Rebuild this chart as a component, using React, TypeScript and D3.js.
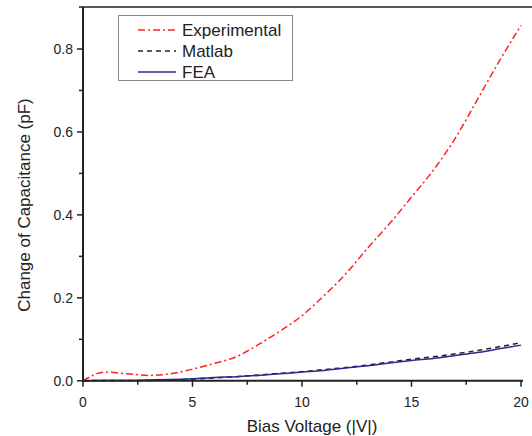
import React from "react";
import * as d3 from "d3";

const voltages = [0, 1, 2, 3, 4, 5, 6, 7, 8, 9, 10, 11, 12, 13, 14, 15, 16, 17, 18, 19, 20];
const experimental = [0, 0.021, 0.017, 0.013, 0.017, 0.028, 0.042, 0.058, 0.087, 0.12, 0.157, 0.205, 0.258, 0.32, 0.379, 0.443, 0.508, 0.585, 0.677, 0.77, 0.857];
const matlab = [0, 0.001, 0.001, 0.001, 0.002, 0.004, 0.007, 0.01, 0.014, 0.018, 0.022, 0.027, 0.032, 0.038, 0.045, 0.052, 0.058, 0.065, 0.073, 0.082, 0.092];
const fea = [0, 0.001, 0.001, 0.002, 0.003, 0.005, 0.008, 0.01, 0.013, 0.017, 0.021, 0.025, 0.031, 0.036, 0.043, 0.049, 0.054, 0.061, 0.068, 0.077, 0.086];

const xMajorTicks = [0, 5, 10, 15, 20];
const xMinorTicks = [2.5, 7.5, 12.5, 17.5];
const yMajorTicks = [0, 0.2, 0.4, 0.6, 0.8];
const yMinorTicks = [0.1, 0.3, 0.5, 0.7];
const seriesNames = ["Experimental", "Matlab", "FEA"];

export default function App() {
  const x = d3.scaleLinear().domain([0, 20]).range([83, 521]);
  const y = d3.scaleLinear().domain([0, 0.9]).range([380.8, 7.5]);
  const font = "'Liberation Sans', Arial, sans-serif";

  const mk = (vals: number[]) =>
    d3
      .line<number>()
      .x((_, i) => x(voltages[i]))
      .y((d) => y(d))
      .curve(d3.curveMonotoneX)(vals) || "";

  const series = [
    { name: seriesNames[0], vals: experimental, color: "#ff2020", dash: "7,3,2,3", w: 1.5 },
    { name: seriesNames[1], vals: matlab, color: "#222", dash: "5,4", w: 1.5 },
    { name: seriesNames[2], vals: fea, color: "#2a2a90", dash: "", w: 1.5 },
  ];

  const x0 = x(0);
  const y0 = y(0);

  return (
    <svg
      width={532}
      height={436}
      style={{ position: "absolute", left: 0, top: 0, background: "#fff" }}
    >
      <rect x={0} y={0} width={532} height={436} fill="#fff" />
      {/* top frame line */}
      <line x1={79} x2={532} y1={7} y2={7} stroke="#555" strokeWidth={2} />

      {series.map((s) => (
        <path
          key={s.name}
          d={mk(s.vals)}
          fill="none"
          stroke={s.color}
          strokeWidth={s.w}
          strokeDasharray={s.dash || undefined}
        />
      ))}

      {/* axes */}
      <line x1={x0} x2={x0} y1={7} y2={y0 + 1} stroke="#222" strokeWidth={2} />
      <line x1={x0 - 1} x2={x(20) + 2} y1={y0} y2={y0} stroke="#222" strokeWidth={2} />

      {xMajorTicks.map((t) => (
        <g key={"xm" + t}>
          <line x1={x(t)} x2={x(t)} y1={y0} y2={y0 + 6} stroke="#222" strokeWidth={1.5} />
          <text x={x(t)} y={407} textAnchor="middle" fontFamily={font} fontSize={14} fill="#222">
            {t}
          </text>
        </g>
      ))}
      {xMinorTicks.map((t) => (
        <line key={"xn" + t} x1={x(t)} x2={x(t)} y1={y0} y2={y0 + 4} stroke="#222" strokeWidth={1.5} />
      ))}
      {yMajorTicks.map((t) => (
        <g key={"ym" + t}>
          <line x1={x0 - 6} x2={x0} y1={y(t)} y2={y(t)} stroke="#222" strokeWidth={1.5} />
          <text x={x0 - 10} y={y(t) + 5} textAnchor="end" fontFamily={font} fontSize={14} fill="#222">
            {t.toFixed(1)}
          </text>
        </g>
      ))}
      {yMinorTicks.map((t) => (
        <line key={"yn" + t} x1={x0 - 4} x2={x0} y1={y(t)} y2={y(t)} stroke="#222" strokeWidth={1.5} />
      ))}

      <text x={312} y={432} textAnchor="middle" fontFamily={font} fontSize={17} fill="#222">
        Bias Voltage (|V|)
      </text>
      <text
        transform={`translate(30,205) rotate(-90)`}
        textAnchor="middle"
        fontFamily={font}
        fontSize={17}
        fill="#222"
      >
        Change of Capacitance (pF)
      </text>

      {/* legend */}
      <rect x={118.5} y={15.5} width={174} height={65} fill="#fff" stroke="#888" strokeWidth={1} />
      {series.map((s, i) => (
        <g key={"lg" + s.name}>
          <line
            x1={138}
            x2={176}
            y1={30 + i * 21}
            y2={30 + i * 21}
            stroke={s.color}
            strokeWidth={s.w}
            strokeDasharray={s.dash || undefined}
          />
          <text x={182} y={30 + i * 21 + 6} fontFamily={font} fontSize={17} fill="#222">
            {s.name}
          </text>
        </g>
      ))}
    </svg>
  );
}
